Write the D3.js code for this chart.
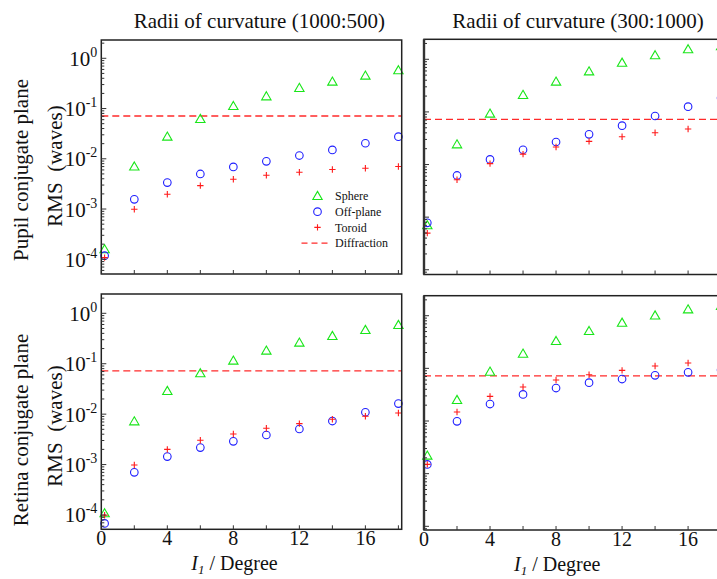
<!DOCTYPE html>
<html>
<head>
<meta charset="utf-8">
<script src="https://cdn.jsdelivr.net/npm/d3@7"></script>
<style>
  html, body { margin: 0; padding: 0; background: #fff; overflow: hidden; }
  svg { display: block; font-family: "Liberation Serif", "Times New Roman", serif; }
</style>
</head>
<body>
<svg id="chart" width="717" height="579"></svg>
<script>
// Field angle I1 (degrees) sampled for every curve
const angles = [0.2, 2, 4, 6, 8, 10, 12, 14, 16, 18];

// Pupil conjugate plane, radii of curvature 1000:500
const pupilA_sphere   = [1.58e-4, 7.0e-3, 0.0276, 0.062, 0.112, 0.175, 0.257, 0.343, 0.452, 0.577];
const pupilA_offplane = [1.18e-4, 1.56e-3, 3.36e-3, 4.99e-3, 6.88e-3, 8.9e-3, 0.0116, 0.0150, 0.0204, 0.0276];
const pupilA_toroid   = [1.08e-4, 9.9e-4, 1.97e-3, 2.92e-3, 3.91e-3, 4.7e-3, 5.4e-3, 6.1e-3, 6.5e-3, 7.0e-3];
const pupilA_diffraction = 0.071;

// Pupil conjugate plane, radii of curvature 300:1000
const pupilB_sphere   = [7.0e-4, 0.0242, 0.0927, 0.21, 0.376, 0.59, 0.86, 1.19, 1.55, 1.77];
const pupilB_offplane = [7.8e-4, 6.2e-3, 0.0125, 0.0191, 0.0268, 0.0375, 0.0547, 0.0836, 0.126, 0.184];
const pupilB_toroid   = [4.98e-4, 5.15e-3, 0.0104, 0.0158, 0.0215, 0.0276, 0.0338, 0.0403, 0.0473, 0.055];
const pupilB_diffraction = 0.072;

// Retina conjugate plane, radii of curvature 1000:500
const retinaA_sphere   = [1.08e-4, 7.2e-3, 0.0288, 0.0646, 0.115, 0.182, 0.262, 0.355, 0.467, 0.587];
const retinaA_offplane = [6.8e-5, 7.0e-4, 1.44e-3, 2.17e-3, 2.89e-3, 3.86e-3, 5.08e-3, 7.3e-3, 0.0109, 0.0162];
const retinaA_toroid   = [9.85e-5, 9.8e-4, 2.0e-3, 3.03e-3, 4.04e-3, 5.24e-3, 6.49e-3, 7.9e-3, 9.06e-3, 0.01055];
const retinaA_diffraction = 0.072;

// Retina conjugate plane, radii of curvature 300:1000
const retinaB_sphere   = [2.2e-3, 0.0251, 0.0865, 0.19, 0.33, 0.512, 0.736, 1.01, 1.32, 1.53];
const retinaB_offplane = [1.5e-3, 9.86e-3, 0.021, 0.032, 0.0423, 0.0535, 0.0627, 0.0736, 0.0839, 0.093];
const retinaB_toroid   = [1.5e-3, 0.0148, 0.0294, 0.0442, 0.060, 0.0758, 0.0916, 0.1107, 0.126, 0.144];
const retinaB_diffraction = 0.072;

// Axis text
const columnTitles = ["Radii of curvature (1000:500)", "Radii of curvature (300:1000)"];
const rowTitles = ["Pupil conjugate plane", "Retina conjugate plane"];
const yUnitTitle = "RMS  (waves)";
const xLabelTicks = [0, 4, 8, 12, 16];
const xMinorTicks = [0, 2, 4, 6, 8, 10, 12, 14, 16, 18];
const yDecades = [0, -1, -2, -3, -4];
const legendNames = ["Sphere", "Off-plane", "Toroid", "Diffraction"];

const xDomain = [0, 18.2];

const colors = { sphere: "#19e619", offplane: "#1f1fff", toroid: "#ff1a1a", diffraction: "#ff2a2a" };

const svg = d3.select("#chart");

// panel boxes and log10 extent of each y axis
const panels = [
  { left: 101.3, top: 40,    right: 401.7, bottom: 274,   yExp: [-4.293, 0.364], col: 0, row: 0,
    data: [pupilA_sphere, pupilA_offplane, pupilA_toroid], diff: pupilA_diffraction, legend: true },
  { left: 424,   top: 39.3,  right: 724.4, bottom: 274.5, yExp: [-4.09, 0.38],  col: 1, row: 0,
    data: [pupilB_sphere, pupilB_offplane, pupilB_toroid], diff: pupilB_diffraction },
  { left: 101.3, top: 294,   right: 401.7, bottom: 529.3, yExp: [-4.284, 0.383], col: 0, row: 1,
    data: [retinaA_sphere, retinaA_offplane, retinaA_toroid], diff: retinaA_diffraction },
  { left: 424,   top: 295.7, right: 724.4, bottom: 530,   yExp: [-4.07, 0.38],  col: 1, row: 1,
    data: [retinaB_sphere, retinaB_offplane, retinaB_toroid], diff: retinaB_diffraction }
];

const triangle = d3.symbol().type(d3.symbolTriangle).size(38)();

function drawMarker(g, kind, x, y) {
  if (kind === 0) {
    g.append("path").attr("d", triangle)
      .attr("transform", `translate(${x},${y + 0.8})`)
      .attr("fill", "none").attr("stroke", colors.sphere).attr("stroke-width", 1.1);
  } else if (kind === 1) {
    g.append("circle").attr("cx", x).attr("cy", y).attr("r", 3.8)
      .attr("fill", "none").attr("stroke", colors.offplane).attr("stroke-width", 1.1);
  } else {
    g.append("path").attr("d", `M${x - 3.2},${y}H${x + 3.2}M${x},${y - 3.2}V${y + 3.2}`)
      .attr("fill", "none").attr("stroke", colors.toroid).attr("stroke-width", 1.1);
  }
}

panels.forEach(p => {
  const g = svg.append("g");
  const x = d3.scaleLinear().domain(xDomain).range([p.left, p.right]);
  const y = d3.scaleLog().domain([10 ** p.yExp[0], 10 ** p.yExp[1]]).range([p.bottom, p.top]);

  // diffraction limit
  g.append("line")
    .attr("x1", x(xDomain[0])).attr("x2", x(xDomain[1]))
    .attr("y1", y(p.diff)).attr("y2", y(p.diff))
    .attr("stroke", colors.diffraction).attr("stroke-width", 1.4)
    .attr("stroke-dasharray", "7,4");

  // data markers
  p.data.forEach((series, k) => {
    series.forEach((v, i) => drawMarker(g, k, x(angles[i]), y(v)));
  });

  // frame
  g.append("rect")
    .attr("x", p.left).attr("y", p.top)
    .attr("width", p.right - p.left).attr("height", p.bottom - p.top)
    .attr("fill", "none").attr("stroke", "#222").attr("stroke-width", 1.5);
  if (p.col === 1) {
    g.append("line").attr("x1", p.left).attr("x2", p.left)
      .attr("y1", p.top).attr("y2", p.bottom)
      .attr("stroke", "#333").attr("stroke-width", 2.4);
  }

  // y ticks: decades and minor steps, drawn inward
  for (let e = -5; e <= 1; e++) {
    for (let m = 1; m <= 9; m++) {
      const v = m * 10 ** e;
      const yy = y(v);
      if (yy < p.top + 1 || yy > p.bottom - 0.5) continue;
      g.append("line").attr("x1", p.left).attr("x2", p.left + (m === 1 ? 5 : 3))
        .attr("y1", yy).attr("y2", yy).attr("stroke", "#333").attr("stroke-width", 1);
    }
  }

  // x ticks, drawn inward
  xMinorTicks.forEach(t => {
    g.append("line").attr("x1", x(t)).attr("x2", x(t))
      .attr("y1", p.bottom).attr("y2", p.bottom - 4)
      .attr("stroke", "#333").attr("stroke-width", 1);
  });

  // y tick labels on the left column
  if (p.col === 0) {
    yDecades.forEach(e => {
      const t = g.append("text")
        .attr("x", p.left - 4).attr("y", y(10 ** e) + 7.5)
        .attr("text-anchor", "end").attr("font-size", 21).attr("fill", "#111");
      t.append("tspan").text("10");
      t.append("tspan").attr("font-size", 14).attr("dy", -9).text(e === 0 ? "0" : "-" + (-e));
    });
  }

  // x tick labels and axis title on the bottom row
  if (p.row === 1) {
    xLabelTicks.forEach(t => {
      g.append("text").attr("x", x(t)).attr("y", p.bottom + 16)
        .attr("text-anchor", "middle").attr("font-size", 20).attr("fill", "#111").text(t);
    });
    const cx = (p.left + 300.4 / 2) - 17;
    const lab = g.append("text").attr("x", cx).attr("y", p.bottom + 41)
      .attr("text-anchor", "middle").attr("font-size", 20).attr("fill", "#111");
    lab.append("tspan").attr("font-style", "italic").text("I");
    lab.append("tspan").attr("font-style", "italic").attr("font-size", 13).attr("dy", 4).text("1");
    lab.append("tspan").attr("dy", -4).text(" / Degree");
  }

  // column titles
  if (p.row === 0) {
    g.append("text").attr("x", p.left + 150 + (p.col === 0 ? 8 : 4)).attr("y", 28)
      .attr("text-anchor", "middle").attr("font-size", 21).attr("fill", "#111")
      .text(columnTitles[p.col]);
  }

  // row titles
  if (p.col === 0) {
    const cy = p.row === 0 ? 170 : 430;
    g.append("text").attr("transform", `translate(28,${cy}) rotate(-90)`)
      .attr("text-anchor", "middle").attr("font-size", 21).attr("fill", "#111")
      .text(rowTitles[p.row]);
    g.append("text").attr("transform", `translate(62,${cy - 4}) rotate(-90)`)
      .attr("text-anchor", "middle").attr("font-size", 21).attr("fill", "#111")
      .attr("xml:space", "preserve").style("white-space", "pre")
      .text(yUnitTitle);
  }

  // legend
  if (p.legend) {
    const lx = 317.5, ly = 196, step = 15.7;
    legendNames.forEach((name, i) => {
      const yy = ly + i * step;
      if (i < 3) drawMarker(g, i, lx, yy);
      else g.append("line").attr("x1", lx - 16).attr("x2", lx + 14).attr("y1", yy).attr("y2", yy)
        .attr("stroke", colors.diffraction).attr("stroke-width", 1.3).attr("stroke-dasharray", "6,4");
      g.append("text").attr("x", lx + 17.5).attr("y", yy + 4.2)
        .attr("font-size", 12).attr("fill", "#111").text(name);
    });
  }
});
</script>
</body>
</html>
